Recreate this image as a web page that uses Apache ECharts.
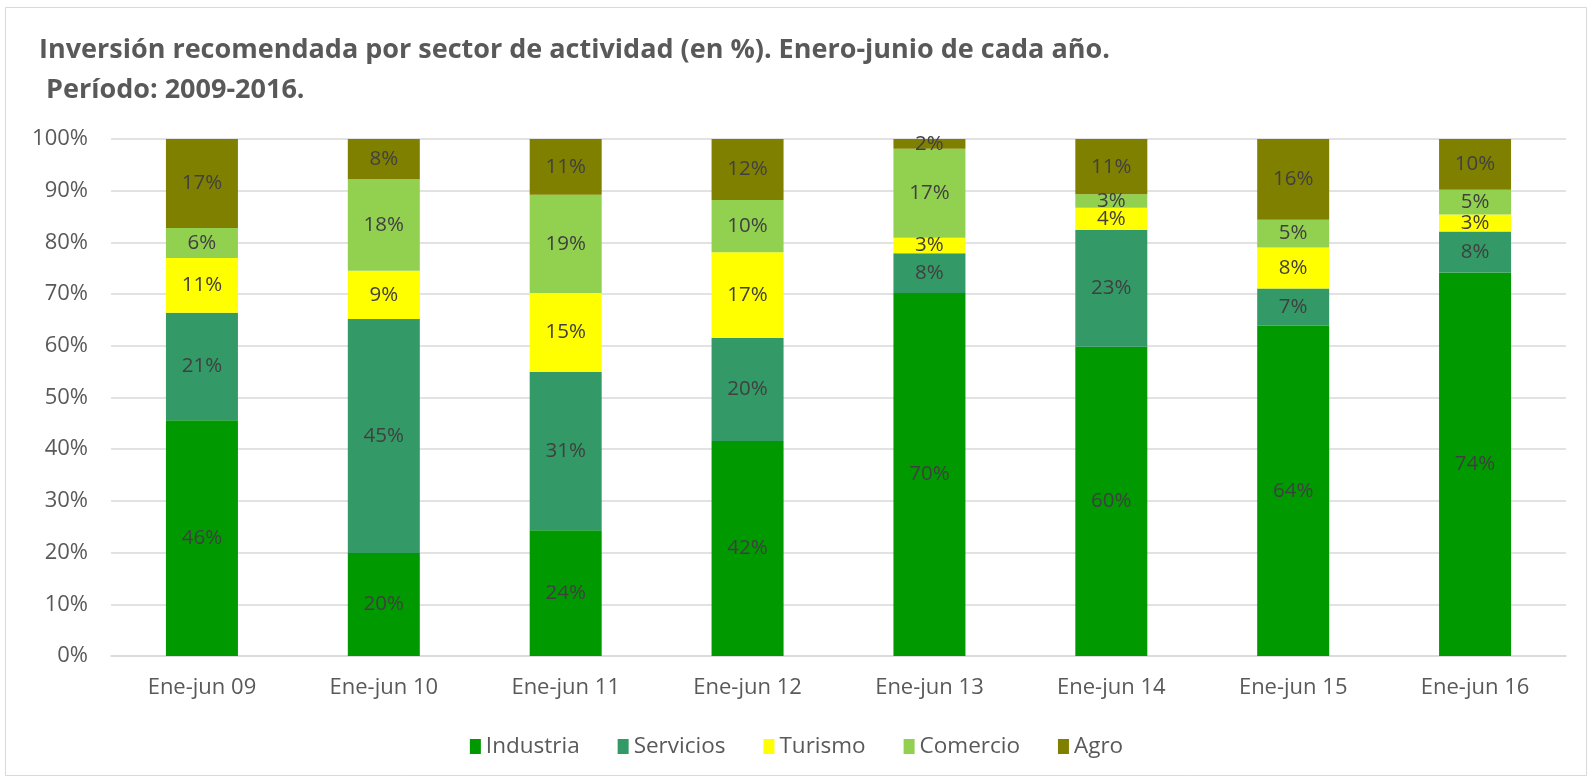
<!DOCTYPE html>
<html>
<head>
<meta charset="utf-8">
<script src="https://cdn.jsdelivr.net/npm/echarts@6/dist/echarts.min.js"></script>
<style>html,body{margin:0;padding:0;background:#fff}#c{width:1593px;height:780px}</style>
</head>
<body>
<div id="c"></div>
<script>
const categories = ['Ene-jun 09','Ene-jun 10','Ene-jun 11','Ene-jun 12','Ene-jun 13','Ene-jun 14','Ene-jun 15','Ene-jun 16'];
const industria = [45.6, 19.9, 24.3, 41.6, 70.2, 59.8, 63.9, 74.2];
const servicios = [20.8, 45.3, 30.7, 19.9, 7.7, 22.6, 7.2, 7.9];
const turismo   = [10.6, 9.3, 15.2, 16.6, 3.0, 4.3, 7.9, 3.3];
const comercio  = [5.8, 17.7, 19.0, 10.1, 17.2, 2.6, 5.4, 4.8];
const agro      = [17.2, 7.8, 10.8, 11.8, 1.9, 10.7, 15.6, 9.8];
const yTicks = [0,10,20,30,40,50,60,70,80,90,100];

const seriesDefs = [
  {name:'Industria', data:industria, color:'#009900'},
  {name:'Servicios', data:servicios, color:'#339966'},
  {name:'Turismo', data:turismo, color:'#FFFF00'},
  {name:'Comercio', data:comercio, color:'#92D050'},
  {name:'Agro', data:agro, color:'#808000'}
];
const FONT = '"Open Sans", "Noto Sans", sans-serif';
const chart = echarts.init(document.getElementById('c'));
chart.setOption({
  animation:false,
  textStyle:{fontFamily:FONT},
  graphic:[{type:'rect', shape:{x:5.5,y:7.5,width:1581,height:768}, style:{fill:'none', stroke:'#d9d9d9', lineWidth:1}, silent:true}],
  title:{
    text:'Inversión recomendada por sector de actividad (en %). Enero-junio de cada año.\n Período: 2009-2016.',
    left:34, top:25,
    textStyle:{fontFamily:FONT, fontSize:27, fontWeight:'bold', color:'#595959', lineHeight:40}
  },
  legend:{
    bottom:17, left:'center',
    itemWidth:11, itemHeight:15, itemGap:38,
    icon:'rect',
    textStyle:{fontFamily:FONT, fontSize:22.5, color:'#595959'},
    data:seriesDefs.map(s=>s.name)
  },
  grid:{left:111, right:27, top:139, bottom:124, containLabel:false},
  xAxis:{
    type:'category', data:categories,
    axisTick:{show:false},
    axisLine:{lineStyle:{color:'#d9d9d9', width:1.5}},
    axisLabel:{color:'#595959', fontSize:22, margin:21, fontFamily:FONT}
  },
  yAxis:{
    type:'value', min:yTicks[0], max:yTicks[yTicks.length-1], interval:10,
    axisLine:{show:false}, axisTick:{show:false},
    splitLine:{lineStyle:{color:'#d9d9d9', width:1.5}},
    axisLabel:{color:'#595959', fontSize:22, margin:23, formatter:'{value}%', fontFamily:FONT}
  },
  series: seriesDefs.map(s=>({
    name:s.name, type:'bar', stack:'total', data:s.data,
    barWidth:72,
    itemStyle:{color:s.color},
    label:{show:true, position:'inside', color:'#404040', fontSize:20.5, fontFamily:FONT,
      formatter:p=>Math.round(p.value)+'%'}
  }))
});
</script>
</body>
</html>
